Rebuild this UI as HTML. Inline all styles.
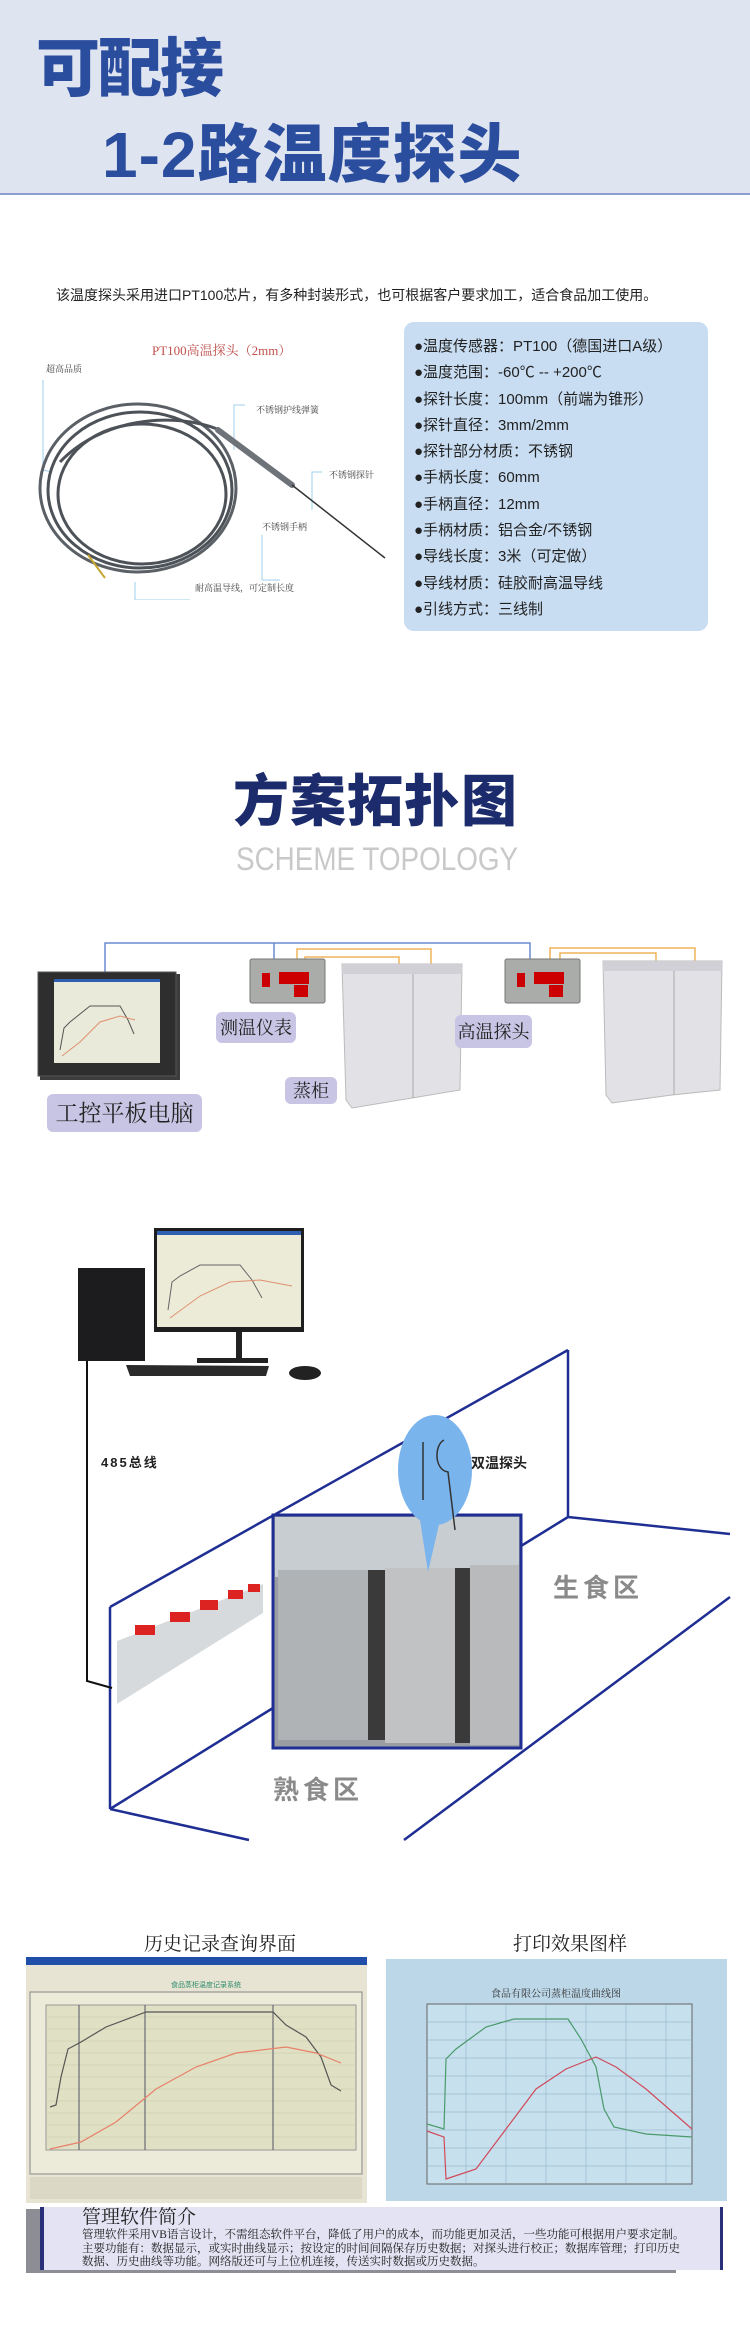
<!DOCTYPE html>
<html><head><meta charset="utf-8">
<style>
*{margin:0;padding:0;box-sizing:border-box}
body{width:750px;height:2325px;position:relative;background:#fff;overflow:hidden;font-family:"Liberation Sans","Noto Sans CJK SC",sans-serif}
.a{position:absolute;white-space:nowrap}
.ser{font-family:"Liberation Serif","Noto Serif CJK SC",serif}
.lab{position:absolute;background:#c8c5e4;border-radius:6px;color:#222;font-family:"Liberation Serif","Noto Serif CJK SC",serif;display:flex;align-items:center;justify-content:center;white-space:nowrap;line-height:1}
</style></head><body>

<!-- header -->
<div class="a" style="left:0;top:0;width:750px;height:195px;background:#dfe4f1;border-bottom:2px solid #8a9bd0"></div>
<div class="a" style="left:36px;top:18px;font-size:64px;font-weight:900;color:#2b4d9e;letter-spacing:-2px">可配接</div>
<div class="a" style="left:102px;top:104px;font-size:64px;font-weight:900;color:#2b4d9e;letter-spacing:1px">1-2路温度探头</div>

<div class="a" style="left:56px;top:285px;font-size:14px;color:#222">该温度探头采用进口PT100芯片，有多种封装形式，也可根据客户要求加工，适合食品加工使用。</div>

<!-- probe image -->
<div class="a ser" style="left:152px;top:340px;font-size:13px;color:#c0504d">PT100高温探头（2mm）</div>
<svg class="a" style="left:0;top:360px" width="400" height="240">
 <g fill="none" stroke="#9fd0ee" stroke-width="1">
  <polyline points="43,20 43,110 52,112"/>
  <polyline points="245,45 234,45 234,90"/>
  <polyline points="262,175 262,220 280,220"/>
  <polyline points="322,112 312,112 312,150"/>
  <polyline points="135,222 135,240 190,240"/>
 </g>
 <g fill="none" stroke="#4c5257" stroke-width="3">
  <ellipse cx="140" cy="130" rx="92" ry="78"/>
  <ellipse cx="142" cy="134" rx="84" ry="70"/>
  <ellipse cx="138" cy="128" rx="98" ry="84" stroke="#5a6066"/>
  <path d="M60,102 C100,60 170,50 220,70"/>
 </g>
 <line x1="218" y1="70" x2="292" y2="125" stroke="#6d7378" stroke-width="6" stroke-linecap="round"/>
 <line x1="292" y1="125" x2="385" y2="198" stroke="#333" stroke-width="1.5"/>
 <line x1="88" y1="195" x2="105" y2="218" stroke="#c9a830" stroke-width="2"/>
</svg>
<div class="a ser" style="left:46px;top:362px;font-size:9px;color:#444">超高品质</div>
<div class="a ser" style="left:256px;top:403px;font-size:9px;color:#444">不锈钢护线弹簧</div>
<div class="a ser" style="left:329px;top:468px;font-size:9px;color:#444">不锈钢探针</div>
<div class="a ser" style="left:262px;top:520px;font-size:9px;color:#444">不锈钢手柄</div>
<div class="a ser" style="left:195px;top:581px;font-size:9px;color:#444">耐高温导线，可定制长度</div>

<!-- spec box -->
<div class="a" style="left:404px;top:322px;width:304px;height:309px;background:#c8ddf2;border-radius:10px"></div>
<div class="a" style="left:414px;top:334px;font-size:15px;line-height:26.3px;color:#222">
●温度传感器：PT100（德国进口A级）<br>●温度范围：-60℃ -- +200℃<br>●探针长度：100mm（前端为锥形）<br>●探针直径：3mm/2mm<br>●探针部分材质：不锈钢<br>●手柄长度：60mm<br>●手柄直径：12mm<br>●手柄材质：铝合金/不锈钢<br>●导线长度：3米（可定做）<br>●导线材质：硅胶耐高温导线<br>●引线方式：三线制</div>

<!-- topology title -->
<div class="a" style="left:233px;top:772px;font-size:56px;line-height:60px;font-weight:900;color:#1b2b6b;letter-spacing:1px">方案拓扑图</div>
<div class="a" style="left:236px;top:842px;font-size:32px;line-height:34px;color:#c9c9c9;transform:scaleX(0.87);transform-origin:left top">SCHEME TOPOLOGY</div>

<!-- topology -->
<svg class="a" style="left:0;top:930px" width="750" height="210">
 <g fill="none" stroke="#6c8ad0" stroke-width="1.5">
  <polyline points="105,42 105,13 530,13 530,30"/>
  <line x1="274" y1="13" x2="274" y2="30"/>
 </g>
 <g fill="none" stroke="#f0b45c" stroke-width="1.5">
  <polyline points="297,30 297,19 431,19 431,103"/>
  <polyline points="305,30 305,27 399,27 399,105"/>
  <polyline points="550,30 550,18 695,18 695,102"/>
  <polyline points="560,30 560,23 656,23 656,102"/>
 </g>
 <g>
  <path d="M342,34 L462,34 L460,160 L412,168 L352,178 L346,170 Z" fill="#e2e2e6" stroke="#bbb"/>
  <rect x="342" y="34" width="120" height="10" fill="#d0d0d6"/>
  <line x1="413" y1="44" x2="413" y2="168" stroke="#aaa"/>
  <path d="M603,31 L722,31 L720,160 L672,165 L612,173 L606,165 Z" fill="#e2e2e6" stroke="#bbb"/>
  <rect x="603" y="31" width="119" height="10" fill="#d0d0d6"/>
  <line x1="674" y1="41" x2="674" y2="165" stroke="#aaa"/>
 </g>
 <g>
  <rect x="250" y="29" width="75" height="44" rx="2" fill="#a9aca9" stroke="#777"/>
  <rect x="262" y="43" width="8" height="14" fill="#c00"/><rect x="279" y="42" width="30" height="12" fill="#c00"/><rect x="294" y="55" width="14" height="12" fill="#c00"/>
  <rect x="505" y="29" width="75" height="44" rx="2" fill="#a9aca9" stroke="#777"/>
  <rect x="517" y="43" width="8" height="14" fill="#c00"/><rect x="534" y="42" width="30" height="12" fill="#c00"/><rect x="549" y="55" width="14" height="12" fill="#c00"/>
 </g>
 <rect x="40" y="44" width="140" height="106" fill="#3c3c3c"/>
 <rect x="38" y="42" width="138" height="104" fill="#2e2e2e" stroke="#555"/>
 <rect x="54" y="49" width="106" height="84" fill="#e9ead9"/>
 <rect x="54" y="49" width="106" height="3" fill="#2f5fb0"/>
 <polyline points="60,120 64,98 70,92 90,76 120,76 128,90 134,104" fill="none" stroke="#555" stroke-width="1"/>
 <polyline points="62,126 80,112 100,92 120,86 135,90" fill="none" stroke="#e09070" stroke-width="1"/>
</svg>
<div class="lab" style="left:216px;top:1012px;width:80px;height:31px;font-size:18px">测温仪表</div>
<div class="lab" style="left:455px;top:1015px;width:77px;height:33px;font-size:18px">高温探头</div>
<div class="lab" style="left:285px;top:1077px;width:52px;height:27px;font-size:18px">蒸柜</div>
<div class="lab" style="left:47px;top:1094px;width:155px;height:38px;font-size:23px">工控平板电脑</div>

<!-- room diagram -->
<svg class="a" style="left:0;top:1220px" width="750" height="640">
 <g fill="none" stroke="#1f2e93" stroke-width="2.5">
  <line x1="110" y1="387" x2="568" y2="130"/>
  <line x1="568" y1="130" x2="568" y2="297"/>
  <line x1="568" y1="297" x2="730" y2="314"/>
  <line x1="568" y1="297" x2="521" y2="326"/>
  <line x1="110" y1="387" x2="110" y2="589"/>
  <line x1="110" y1="589" x2="273" y2="488"/>
  <line x1="110" y1="589" x2="249" y2="620"/>
  <line x1="404" y1="620" x2="730" y2="377"/>
 </g>
 <rect x="78" y="48" width="67" height="93" fill="#1c1c1e"/>
 <rect x="154" y="8" width="150" height="104" fill="#1e1e1e"/>
 <rect x="157" y="11" width="144" height="96" fill="#ecebd8"/>
 <rect x="157" y="11" width="144" height="4" fill="#2f5fb0"/>
 <polyline points="168,90 172,62 180,56 200,45 240,45 252,60 262,78" fill="none" stroke="#666" stroke-width="1"/>
 <polyline points="170,98 200,76 230,62 260,60 292,66" fill="none" stroke="#e09070" stroke-width="1"/>
 <rect x="236" y="112" width="6" height="28" fill="#222"/>
 <rect x="197" y="138" width="71" height="5" fill="#222"/>
 <path d="M126,145 L269,146 L266,156 L130,156 Z" fill="#2a2a2a"/>
 <ellipse cx="305" cy="153" rx="16" ry="7" fill="#222"/>
 <polyline points="87,141 87,461 112,468" fill="none" stroke="#111" stroke-width="2"/>
 <path d="M117,421 L263,364 L263,393 L117,484 Z" fill="#d7dadc"/>
 <g fill="#d22">
  <rect x="135" y="405" width="20" height="10"/><rect x="170" y="392" width="20" height="10"/><rect x="200" y="380" width="18" height="10"/><rect x="228" y="370" width="15" height="9"/><rect x="248" y="364" width="12" height="8"/>
 </g>
 <rect x="273" y="295" width="248" height="233" fill="#9a9ea2" stroke="#1f2e93" stroke-width="3"/>
 <rect x="275" y="297" width="244" height="60" fill="#c8cdd2"/>
 <rect x="278" y="350" width="90" height="170" fill="#b0b3b5"/>
 <rect x="385" y="348" width="70" height="175" fill="#c0c2c3"/>
 <rect x="470" y="345" width="49" height="180" fill="#b8babc"/>
 <rect x="368" y="350" width="17" height="170" fill="#3a3a3a"/>
 <rect x="455" y="348" width="15" height="175" fill="#3a3a3a"/>
 <path d="M420,300 L428,352 L440,300 Z" fill="#7ab4ec"/>
 <ellipse cx="435" cy="250" rx="37" ry="55" fill="#7ab4ec"/>
 <line x1="423" y1="222" x2="423" y2="280" stroke="#333" stroke-width="1.5"/>
 <path d="M444,220 C434,225 434,250 448,252 L455,310" fill="none" stroke="#333" stroke-width="1.5"/>
</svg>
<div class="a" style="left:101px;top:1452px;font-size:13px;font-weight:bold;color:#222;letter-spacing:2px">485总线</div>
<div class="a" style="left:471px;top:1453px;font-size:14px;font-weight:bold;color:#222">双温探头</div>
<div class="a" style="left:553px;top:1568px;font-size:26px;font-weight:bold;color:#8a8a8a;letter-spacing:4px">生食区</div>
<div class="a" style="left:273px;top:1770px;font-size:26px;font-weight:bold;color:#8a8a8a;letter-spacing:4px">熟食区</div>

<!-- software -->
<div class="a ser" style="left:144px;top:1934px;font-size:19px;line-height:22px;color:#222">历史记录查询界面</div>
<div class="a ser" style="left:513px;top:1934px;font-size:19px;line-height:22px;color:#222">打印效果图样</div>

<svg class="a" style="left:26px;top:1957px" width="341" height="246">
 <rect width="341" height="246" fill="#e8e4d4"/>
 <rect width="341" height="8" fill="#1f4fa8"/>
 <rect x="4" y="35" width="332" height="182" fill="#ecead8" stroke="#888"/>
 <rect x="20" y="48" width="310" height="145" fill="#dfe0c4" stroke="#999"/>
 <g stroke="#c8c8a8" stroke-width="0.5">
  <line x1="20" y1="60" x2="330" y2="60"/><line x1="20" y1="72" x2="330" y2="72"/><line x1="20" y1="84" x2="330" y2="84"/><line x1="20" y1="96" x2="330" y2="96"/><line x1="20" y1="108" x2="330" y2="108"/><line x1="20" y1="120" x2="330" y2="120"/><line x1="20" y1="132" x2="330" y2="132"/><line x1="20" y1="144" x2="330" y2="144"/><line x1="20" y1="156" x2="330" y2="156"/><line x1="20" y1="168" x2="330" y2="168"/><line x1="20" y1="180" x2="330" y2="180"/>
 </g>
 <g stroke="#556" stroke-width="1"><line x1="53" y1="48" x2="53" y2="193"/><line x1="119" y1="48" x2="119" y2="193"/><line x1="247" y1="48" x2="247" y2="193"/></g>
 <polyline points="24,150 30,148 35,120 42,92 55,85 80,70 120,55 247,55 260,68 280,80 295,100 305,128 315,134" fill="none" stroke="#555" stroke-width="1.2"/>
 <polyline points="24,192 55,185 90,165 130,132 170,110 210,96 260,90 290,96 315,106" fill="none" stroke="#e8806a" stroke-width="1.2"/>
 <rect x="4" y="220" width="332" height="22" fill="#dcd8c6"/>
 <text x="180" y="30" font-size="7" fill="#2a8a6a" text-anchor="middle" font-family="Liberation Sans,Noto Sans CJK SC,sans-serif">食品蒸柜温度记录系统</text>
</svg>

<svg class="a" style="left:386px;top:1959px" width="341" height="242">
 <rect width="341" height="242" fill="#bcd7e8"/>
 <rect x="41" y="45" width="265" height="180" fill="#c6e0ee" stroke="#666"/>
 <g stroke="#8aa8bc" stroke-width="0.5">
  <line x1="41" y1="63" x2="306" y2="63"/><line x1="41" y1="81" x2="306" y2="81"/><line x1="41" y1="99" x2="306" y2="99"/><line x1="41" y1="117" x2="306" y2="117"/><line x1="41" y1="135" x2="306" y2="135"/><line x1="41" y1="153" x2="306" y2="153"/><line x1="41" y1="171" x2="306" y2="171"/><line x1="41" y1="189" x2="306" y2="189"/><line x1="41" y1="207" x2="306" y2="207"/>
  <line x1="80" y1="45" x2="80" y2="225"/><line x1="120" y1="45" x2="120" y2="225"/><line x1="160" y1="45" x2="160" y2="225"/><line x1="200" y1="45" x2="200" y2="225"/><line x1="240" y1="45" x2="240" y2="225"/><line x1="280" y1="45" x2="280" y2="225"/>
 </g>
 <polyline points="41,165 58,170 60,100 70,90 100,68 128,60 182,60 195,80 210,108 218,150 228,168 260,175 306,178" fill="none" stroke="#4a9a6a" stroke-width="1.2"/>
 <polyline points="41,172 58,178 60,220 90,210 120,170 150,130 180,110 210,98 230,108 260,130 306,170" fill="none" stroke="#d04a5a" stroke-width="1.2"/>
 <text x="170" y="38" font-size="10" fill="#333" text-anchor="middle" font-family="Liberation Serif,Noto Serif CJK SC,serif">食品有限公司蒸柜温度曲线图</text>
</svg>

<!-- intro box -->
<div class="a" style="left:26px;top:2209px;width:650px;height:64px;background:#8d8d96"></div>
<div class="a" style="left:40px;top:2207px;width:683px;height:63px;background:#e3e3f3;border-left:4px solid #2a2f7a;border-right:3px solid #2a2f7a"></div>
<div class="a ser" style="left:82px;top:2207px;font-size:19px;line-height:22px;color:#222">管理软件简介</div>
<div class="a ser" style="left:82px;top:2229px;font-size:11.5px;line-height:13.5px;color:#222">管理软件采用VB语言设计，不需组态软件平台，降低了用户的成本，而功能更加灵活，一些功能可根据用户要求定制。<br>主要功能有：数据显示，或实时曲线显示；按设定的时间间隔保存历史数据；对探头进行校正；数据库管理；打印历史<br>数据、历史曲线等功能。网络版还可与上位机连接，传送实时数据或历史数据。</div>

</body></html>
